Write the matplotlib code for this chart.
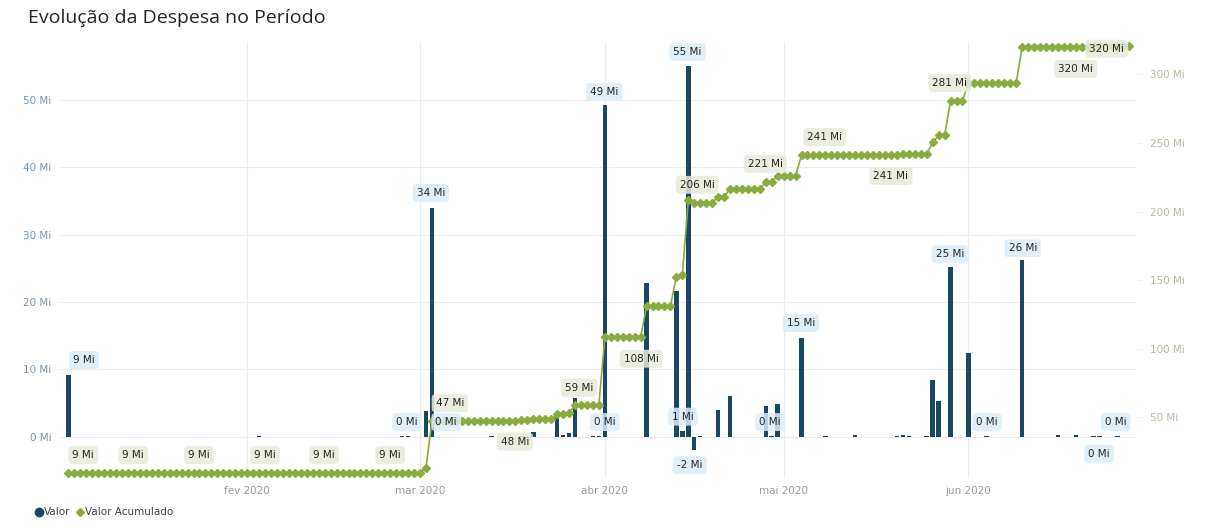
import matplotlib
matplotlib.use('Agg')
import matplotlib.pyplot as plt
from matplotlib.lines import Line2D
import numpy as np
import pandas as pd

# %%
# daily spend (Mi), day index counted from 2020-01-01
bar_days = [1, 33, 57, 58, 61, 62, 72, 77, 79, 83, 84, 85, 86, 89, 90, 91, 98,
            103, 104, 105, 106, 107, 110, 112, 118, 119, 120, 124, 128, 133,
            140, 141, 142, 145, 146, 147, 149, 152, 155, 161, 167, 170, 173,
            174, 177]
bar_vals = [9.2, 0.15, 0.1, 0.1, 3.9, 34.0, 0.15, 0.2, 0.7, 3.6, 0.3, 0.6, 5.8,
            0.15, 0.1, 49.2, 22.8, 21.6, 0.8, 55.0, -2.0, 0.15, 4.0, 6.0, 4.6,
            0.1, 4.9, 14.7, 0.1, 0.25, 0.1, 0.3, 0.1, 0.1, 8.5, 5.3, 25.2, 12.5,
            0.1, 26.2, 0.3, 0.3, 0.1, 0.1, 0.1]
first_day = 1
last_day = 179

# data labels: (day, height on left axis, text)
valor_labels = [(3.6, 11.4, '9 Mi'), (57.8, 2.2, '0 Mi'), (61.8, 36.2, '34 Mi'),
                (64.4, 2.2, '0 Mi'), (91.0, 2.2, '0 Mi'), (90.9, 51.2, '49 Mi'),
                (104.9, 57.1, '55 Mi'), (104.1, 3.0, '1 Mi'), (105.3, -4.2, '-2 Mi'),
                (118.7, 2.2, '0 Mi'), (123.9, 16.9, '15 Mi'), (148.9, 27.1, '25 Mi'),
                (161.1, 28.0, '26 Mi'), (155.1, 2.2, '0 Mi'), (176.7, 2.2, '0 Mi'),
                (173.9, -2.5, '0 Mi')]
acum_labels = [(3.5, -2.7, '9 Mi'), (11.9, -2.7, '9 Mi'), (22.9, -2.7, '9 Mi'),
               (34.0, -2.7, '9 Mi'), (43.9, -2.7, '9 Mi'), (55.0, -2.7, '9 Mi'),
               (65.0, 5.0, '47 Mi'), (75.9, -0.7, '48 Mi'), (86.7, 7.3, '59 Mi'),
               (97.1, 11.6, '108 Mi'), (106.5, 37.4, '206 Mi'), (117.9, 40.5, '221 Mi'),
               (127.9, 44.5, '241 Mi'), (139.0, 38.7, '241 Mi'), (148.9, 52.5, '281 Mi'),
               (170.0, 54.6, '320 Mi'), (175.2, 57.6, '320 Mi')]

month_ticks = ['2020-02-01', '2020-03-01', '2020-04-01', '2020-05-01', '2020-06-01']
month_names = ['fev 2020', 'mar 2020', 'abr 2020', 'mai 2020', 'jun 2020']

# %%
start = pd.Timestamp('2020-01-01')
daily = np.zeros(last_day + 1)
daily[bar_days] = bar_vals
cum = np.cumsum(daily)
days = np.arange(first_day, last_day + 1)
dates = start + pd.to_timedelta(days, unit='D')
bar_dates = start + pd.to_timedelta(bar_days, unit='D')

def d(n):
    return start + pd.Timedelta(days=n)

bar_col = '#1a4862'
line_col = '#8aab3e'

fig = plt.figure(figsize=(12.17, 5.28), dpi=100)
ax = fig.add_axes([0.0493, 0.0947, 0.8841, 0.8258])
ax2 = ax.twinx()

ax.bar(bar_dates, bar_vals, width=0.75, color=bar_col, zorder=2)
ax2.plot(dates, cum[first_day:], color=line_col, lw=1.2, marker='D',
         markersize=3.6, zorder=3)

ax.set_xlim(d(-0.4), d(180.1))
ax.set_ylim(-6.1, 58.6)
ax2.set_ylim(5.8, 323.6)

ax.set_yticks([0, 10, 20, 30, 40, 50])
ax.set_yticklabels(['0 Mi', '10 Mi', '20 Mi', '30 Mi', '40 Mi', '50 Mi'])
ax2.set_yticks([50, 100, 150, 200, 250, 300])
ax2.set_yticklabels(['50 Mi', '100 Mi', '150 Mi', '200 Mi', '250 Mi', '300 Mi'])
ax.set_xticks(pd.to_datetime(month_ticks))
ax.set_xticklabels(month_names)

for a in (ax, ax2):
    for s in a.spines.values():
        s.set_visible(False)
ax.tick_params(axis='y', length=0, labelsize=7.5, labelcolor='#7896ad', pad=6)
ax.tick_params(axis='x', length=0, labelsize=7.5, labelcolor='#9a9a9a', pad=6)
ax2.tick_params(axis='y', length=4, color='#eeeeee', labelsize=7.5,
                labelcolor='#b7baa0', pad=6)
ax.grid(True, color='#ececec', lw=0.8, zorder=0)
ax.set_axisbelow(True)
ax.set_zorder(1)
ax2.set_zorder(2)
ax.patch.set_visible(False)


def to_right(v):
    lo, hi = ax.get_ylim()
    lo2, hi2 = ax2.get_ylim()
    return lo2 + (v - lo) / (hi - lo) * (hi2 - lo2)


for n, v, t in valor_labels:
    ax2.text(d(n), to_right(v), t, ha='center', va='center', fontsize=7.5,
             color='#252423', zorder=5,
             bbox=dict(boxstyle='round,pad=0.38', fc='#dcedf8', ec='none', alpha=0.85))
for n, v, t in acum_labels:
    ax2.text(d(n), to_right(v), t, ha='center', va='center', fontsize=7.5,
             color='#252423', zorder=5,
             bbox=dict(boxstyle='round,pad=0.38', fc='#e7eadb', ec='none', alpha=0.85))

fig.text(0.023, 0.966, 'Evolução da Despesa no Período', fontsize=14,
         family='Open Sans', color='#252423', va='center')

handles = [Line2D([], [], marker='o', ls='', color=bar_col, markersize=6),
           Line2D([], [], marker='D', ls='', color=line_col, markersize=4.5)]
fig.legend(handles, ['Valor', 'Valor Acumulado'], loc='center left',
           bbox_to_anchor=(0.02, 0.03), frameon=False, fontsize=7.5,
           handletextpad=0.0, columnspacing=0.4, ncol=2, handlelength=1.0,
           labelcolor='#444444')

fig.savefig('out.png', dpi=100)
